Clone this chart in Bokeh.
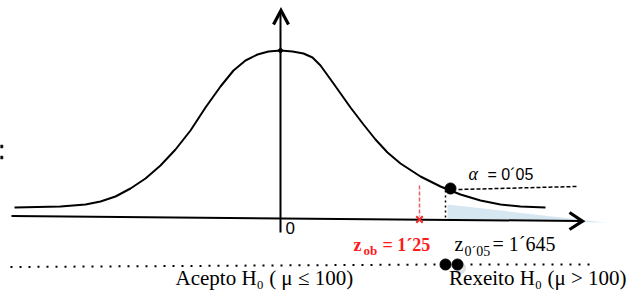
from bokeh.plotting import figure
from bokeh.models import Range1d
from bokeh.embed import file_html
from bokeh.resources import INLINE
from bokeh.core.properties import value

# Schematic diagram, picture units (x to the right, y downwards)
curve_x = [14, 60, 85, 100, 115, 130, 145, 160, 175, 190, 205, 220, 233, 245, 257, 268, 280,
           292, 303, 312, 320, 333, 350, 363, 375, 387, 400, 420, 440, 460, 480, 500, 520, 545]
curve_y = [207, 206, 204, 201, 196, 188, 178, 165, 149, 130, 107, 86, 70, 60, 54, 51, 50,
           51, 53, 57, 65, 83, 107, 124, 139, 152, 163, 176, 186, 194, 200, 204, 206, 207]

haxis_x = [11, 580]
haxis_y = [215.5, 220.5]
vaxis_x = [280, 280]
vaxis_y = [232, 11]
harrow_x = [569, 582, 569]
harrow_y = [212, 220.7, 229]
varrow_x = [273, 280.5, 288]
varrow_y = [24, 10, 24]

tail_x = [447, 447, 605]
tail_y = [204, 219, 222]

zcrit_x = [445, 445]
zcrit_y = [190, 218]
zob_x = [419, 419]
zob_y = [185, 216]
alpha_x = [458, 576]
alpha_y = [189, 186]

left_dots_x = [10, 438]
left_dots_y = [266.5, 264]
right_dots_x = [470, 590]
right_dots_y = [264, 264]
big_dots_x = [445, 457]
big_dots_y = [264, 264]
edge_marks_x = [1, 1]
edge_marks_y = [146, 157]

p = figure(width=627, height=291, x_range=Range1d(0, 627), y_range=Range1d(291, 0),
           output_backend="svg", toolbar_location=None, min_border=0,
           background_fill_color="white", border_fill_color="white")
p.axis.visible = False
p.grid.visible = False
p.outline_line_color = None

# shaded rejection tail
p.patch(tail_x, tail_y, fill_color="#d6e7f1", line_color=None)

# axes
p.line(haxis_x, haxis_y, line_color="black", line_width=2)
p.line(vaxis_x, vaxis_y, line_color="black", line_width=2)
p.line(harrow_x, harrow_y, line_color="black", line_width=3.2, line_join="miter")
p.line(varrow_x, varrow_y, line_color="black", line_width=3.2, line_join="miter")

# density curve
p.line(curve_x, curve_y, line_color="black", line_width=2)
p.scatter([280], [50], size=4, color="black")

# critical value markers
p.line(zcrit_x, zcrit_y, line_color="black", line_width=1.5, line_dash="2 3")
p.line(zob_x, zob_y, line_color="#e06464", line_width=1.5, line_dash="4 2")
p.scatter([419], [219], marker="x", size=9, line_color="#ee2a2a", line_width=2)
p.line(alpha_x, alpha_y, line_color="black", line_width=1.5, line_dash="4 2")
p.scatter([450], [188], size=11, color="black")

# acceptance / rejection dotted line
p.line(left_dots_x, left_dots_y, line_color="black", line_width=2, line_dash="2 7")
p.line(right_dots_x, right_dots_y, line_color="black", line_width=2, line_dash="2 7")
p.scatter([459], [267.5], size=12, color="#888888", alpha=0.22)
p.scatter(big_dots_x, big_dots_y, size=11, color="black")

# marks cut by the left edge
p.scatter(edge_marks_x, edge_marks_y, marker="square", size=2.5, color="black")

sans = value("Liberation Sans")
serif = value("Liberation Serif")

p.text([285], [227], text=["0"], text_font=sans, text_font_size="17px",
       text_baseline="alphabetic", text_align="left", text_color="black")
p.text([468], [173], text=["α"], text_font=serif, text_font_style="italic",
       text_font_size="18px", text_baseline="alphabetic", text_align="left", text_color="black")
p.text([487], [174], text=["= 0´05"], text_font=sans, text_font_size="16px",
       text_baseline="alphabetic", text_align="left", text_color="black")

red = "#ff1a1a"
p.text([353], [244], text=["z"], text_font=serif, text_font_style="bold",
       text_font_size="18px", text_baseline="alphabetic", text_align="left", text_color=red)
p.text([363], [250], text=["ob"], text_font=serif, text_font_style="bold",
       text_font_size="13px", text_baseline="alphabetic", text_align="left", text_color=red)
p.text([382], [244], text=["= 1´25"], text_font=serif, text_font_style="bold",
       text_font_size="18px", text_baseline="alphabetic", text_align="left", text_color=red)

p.text([454], [243], text=["z"], text_font=serif, text_font_size="20px",
       text_baseline="alphabetic", text_align="left", text_color="black")
p.text([464], [251], text=["0´05"], text_font=serif, text_font_size="14px",
       text_baseline="alphabetic", text_align="left", text_color="black")
p.text([492], [243], text=["= 1´645"], text_font=serif, text_font_size="20px",
       text_baseline="alphabetic", text_align="left", text_color="black")

p.text([175], [277], text=["Acepto H₀ ( μ ≤ 100)"], text_font=serif, text_font_size="21px",
       text_baseline="alphabetic", text_align="left", text_color="black")
p.text([626], [277], text=["Rexeito H₀ (μ > 100)"], text_font=serif, text_font_size="21px",
       text_baseline="alphabetic", text_align="right", text_color="black")

open("out.html", "w").write(file_html(p, INLINE))
